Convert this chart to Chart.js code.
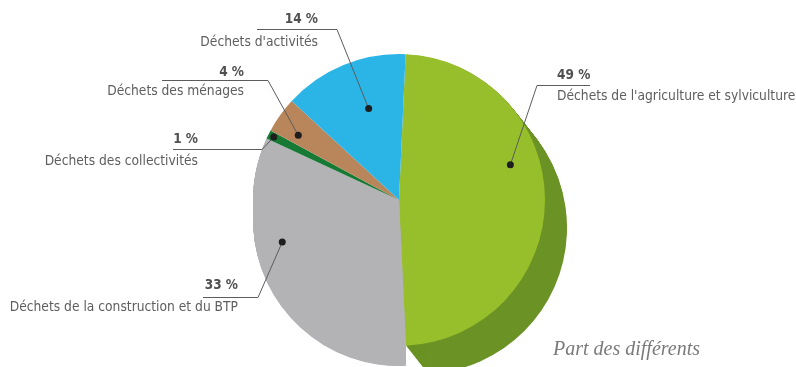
<!DOCTYPE html>
<html>
<head>
<meta charset="utf-8">
<script src="https://cdn.jsdelivr.net/npm/chart.js@4/dist/chart.umd.min.js"></script>
<style>
html,body{margin:0;padding:0;background:#fff;overflow:hidden;}
#wrap{position:relative;width:796px;height:367px;}
canvas{display:block;}
</style>
</head>
<body>
<div id="wrap"><canvas id="c" width="796" height="367"></canvas></div>
<script>
// ---- data ----
const categories = [
  "Déchets de l'agriculture et sylviculture",
  "Déchets de la construction et du BTP",
  "Déchets des collectivités",
  "Déchets des ménages",
  "Déchets d'activités"
];
const shares = [49, 33, 1, 4, 14];
const caption = "Part des différents";

// ---- styles ----
const faceColors = ["#97bf2b", "#b3b3b5", "#167a35", "#b8865a", "#2bb5e6"];
const sideColors = ["#6a9224", "#b3b3b5", null, null, null];
const sideOffsets = [[22, 28], [0, 20], null, null, null];
const sideOrder = [1, 0];

// label layout: align, text x, pct y, name y, underline y, underline start x, elbow x, anchor (fraction of slice angle, fraction of radius)
const labelLayout = [
  {i:0, align:"left",  x:557, py:75,  ny:96,  ly:85,  lx:590, ex:537, af:0.40,  ar:0.80},
  {i:1, align:"right", x:238, py:285, ny:307, ly:297, lx:203, ex:258, af:0.62,  ar:0.85},
  {i:2, align:"right", x:198, py:139, ny:161, ly:149, lx:173, ex:262, af:0.5,   ar:0.96},
  {i:3, align:"right", x:244, py:72,  ny:91,  ly:80,  lx:162, ex:268, af:0.30,  ar:0.82},
  {i:4, align:"right", x:318, py:19,  ny:42,  ly:29,  lx:257, ex:337, af:0.58,  ar:0.66}
];
const labelFont = '"Liberation Sans Narrow", "DejaVu Sans Condensed", "Arial Narrow", sans-serif';

const sidePlugin = {
  id: 'side3d',
  beforeDatasetsDraw(chart) {
    const ctx = chart.ctx;
    const meta = chart.getDatasetMeta(0);
    ctx.save();
    sideOrder.forEach(idx => {
      const arc = meta.data[idx];
      const off = sideOffsets[idx];
      if (!arc || !off) return;
      const p = arc.getProps(['x','y','startAngle','endAngle','outerRadius'], true);
      ctx.fillStyle = sideColors[idx];
      const N = 40;
      for (let k = 1; k <= N; k++) {
        const dx = off[0]*k/N, dy = off[1]*k/N;
        ctx.beginPath();
        ctx.moveTo(p.x+dx, p.y+dy);
        ctx.arc(p.x+dx, p.y+dy, p.outerRadius, p.startAngle, p.endAngle);
        ctx.closePath();
        ctx.fill();
      }
    });
    ctx.restore();
  }
};

const labelPlugin = {
  id: 'leaderLabels',
  afterDatasetsDraw(chart) {
    const ctx = chart.ctx;
    const meta = chart.getDatasetMeta(0);
    ctx.save();
    labelLayout.forEach(L => {
      const arc = meta.data[L.i];
      const p = arc.getProps(['x','y','startAngle','endAngle','outerRadius'], true);
      const a = p.startAngle + (p.endAngle - p.startAngle) * L.af;
      const dx = p.x + Math.cos(a) * p.outerRadius * L.ar;
      const dy = p.y + Math.sin(a) * p.outerRadius * L.ar;
      ctx.strokeStyle = "#5c5c5c";
      ctx.lineWidth = 1;
      ctx.beginPath();
      ctx.moveTo(L.lx, L.ly + 0.5);
      ctx.lineTo(L.ex, L.ly + 0.5);
      ctx.lineTo(dx, dy);
      ctx.stroke();
      ctx.fillStyle = "#1e1e1e";
      ctx.beginPath();
      ctx.arc(dx, dy, 3.5, 0, Math.PI*2);
      ctx.fill();
      ctx.textAlign = L.align;
      ctx.textBaseline = "middle";
      ctx.fillStyle = "#505050";
      ctx.font = "bold 13.5px " + labelFont;
      ctx.fillText(shares[L.i] + " %", L.x, L.py);
      ctx.fillStyle = "#5e5e5e";
      ctx.font = "13.7px " + labelFont;
      ctx.fillText(categories[L.i], L.x, L.ny);
    });
    ctx.textAlign = "left";
    ctx.textBaseline = "middle";
    ctx.fillStyle = "#7a7a7a";
    ctx.font = 'italic 20px "Liberation Serif", "DejaVu Serif", serif';
    ctx.fillText(caption, 553, 350);
    ctx.restore();
  }
};

new Chart(document.getElementById('c'), {
  type: 'pie',
  data: {
    labels: categories,
    datasets: [{
      data: shares,
      backgroundColor: faceColors,
      borderWidth: 0
    }]
  },
  options: {
    responsive: false,
    animation: false,
    rotation: 2.6,
    layout: { padding: { left: 253, right: 251, top: 54, bottom: 21 } },
    plugins: { legend: { display: false }, tooltip: { enabled: false } }
  },
  plugins: [sidePlugin, labelPlugin]
});
</script>
</body>
</html>
